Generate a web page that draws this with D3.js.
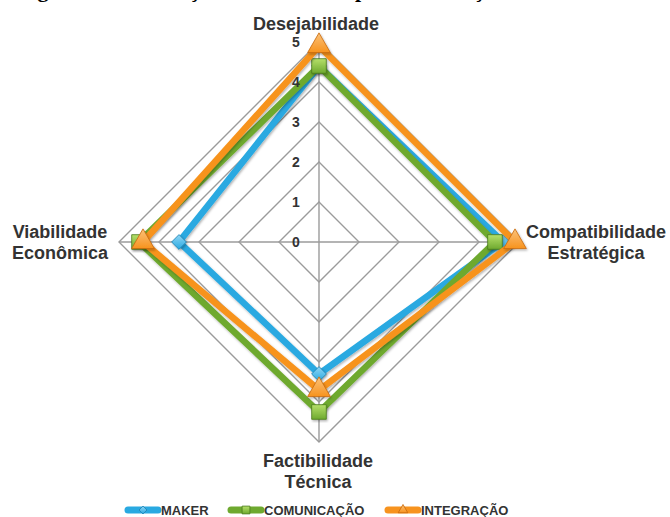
<!DOCTYPE html>
<html>
<head>
<meta charset="utf-8">
<script src="https://cdn.jsdelivr.net/npm/d3@7"></script>
<style>
  html, body { margin: 0; padding: 0; background: #fff; }
  svg { display: block; }
</style>
</head>
<body>
<svg id="chart" width="670" height="517"></svg>
<script>
// Radar axes, clockwise from the top
const axes = ["Desejabilidade", "Compatibilidade|Estratégica", "Factibilidade|Técnica", "Viabilidade|Econômica"];
// Scores per proposal (0–5)
const maker = [4.4, 4.6, 3.3, 3.5];
const comunicacao = [4.4, 4.4, 4.25, 4.5];
const integracao = [4.9, 4.9, 3.7, 4.4];
const seriesNames = ["MAKER", "COMUNICAÇÃO", "INTEGRAÇÃO"];
const tickValues = [0, 1, 2, 3, 4, 5];

const svg = d3.select("#chart");
const cx = 319, cy = 242, R = 200;

const r = d3.scaleLinear().domain([0, 5]).range([0, R]);
const angle = d3.scaleLinear().domain([0, axes.length]).range([0, 2 * Math.PI]);
const pt = (i, v) => [cx + r(v) * Math.sin(angle(i)), cy - r(v) * Math.cos(angle(i))];

const series = [
  { name: seriesNames[0], values: maker, color: "#29a9e1", light: "#8fd6f5", dark: "#1b7fb0", shape: "diamond" },
  { name: seriesNames[1], values: comunicacao, color: "#6ea92f", light: "#b6e06a", dark: "#4a7a1c", shape: "square" },
  { name: seriesNames[2], values: integracao, color: "#f7931e", light: "#fbc27a", dark: "#c8680c", shape: "triangle" }
];

// Caption line above the chart (only its descenders fall inside the frame)
svg.append("text")
  .attr("x", 18).attr("y", -3)
  .attr("font-family", "Liberation Serif, serif")
  .attr("font-weight", "bold").attr("font-size", 22)
  .attr("fill", "#000")
  .text("Figura 12 – Avaliação dos conceitos por combinação");

// Marker gradients
const defs = svg.append("defs");
series.forEach((s, k) => {
  const g = defs.append("linearGradient").attr("id", "grad" + k)
    .attr("x1", 0).attr("y1", 0).attr("x2", 0).attr("y2", 1);
  g.append("stop").attr("offset", "0%").attr("stop-color", s.light);
  g.append("stop").attr("offset", "100%").attr("stop-color", s.color);
});
const shadow = defs.append("filter").attr("id", "shadow")
  .attr("x", "-20%").attr("y", "-20%").attr("width", "140%").attr("height", "140%");
shadow.append("feDropShadow").attr("dx", 1).attr("dy", 1.5).attr("stdDeviation", 1.2)
  .attr("flood-color", "#000").attr("flood-opacity", 0.3);

// Grid rings
const grid = svg.append("g");
tickValues.filter(t => t > 0).forEach(t => {
  grid.append("polygon")
    .attr("points", axes.map((a, i) => pt(i, t).join(",")).join(" "))
    .attr("fill", "none").attr("stroke", "#9b9b9b").attr("stroke-width", 1.4);
});
// Spokes
axes.forEach((a, i) => {
  const [x, y] = pt(i, 5);
  grid.append("line").attr("x1", cx).attr("y1", cy).attr("x2", x).attr("y2", y)
    .attr("stroke", "#9b9b9b").attr("stroke-width", 1.4);
});

// Marker shapes
function marker(sel, s, k, size) {
  let sym;
  if (s.shape === "diamond") sym = d3.symbol().type(d3.symbolDiamond2).size(size * size * 0.62);
  else if (s.shape === "square") sym = d3.symbol().type(d3.symbolSquare).size(size * size * 0.95);
  else sym = d3.symbol().type(d3.symbolTriangle).size(size * size * 0.62);
  return sel.append("path").attr("d", sym())
    .attr("fill", `url(#grad${k})`).attr("stroke", s.dark).attr("stroke-width", 0.8);
}

// Series polygons and markers
const lineGen = d3.line().curve(d3.curveLinearClosed);
series.forEach((s, k) => {
  const g = svg.append("g");
  g.append("path")
    .attr("d", lineGen(s.values.map((v, i) => pt(i, v))))
    .attr("fill", "none").attr("stroke", s.color).attr("stroke-width", 6.5)
    .attr("stroke-linejoin", "miter").attr("filter", "url(#shadow)");
  s.values.forEach((v, i) => {
    const [x, y] = pt(i, v);
    const m = g.append("g").attr("transform", `translate(${x},${y})`).attr("filter", "url(#shadow)");
    marker(m, s, k, s.shape === "triangle" ? 19 : 15);
  });
});

// Radial tick labels
svg.append("g").selectAll("text").data(tickValues).join("text")
  .attr("x", cx - 23).attr("y", d => cy - r(d) + 5)
  .attr("text-anchor", "middle")
  .attr("font-family", "Liberation Sans, Arial, sans-serif")
  .attr("font-weight", "bold").attr("font-size", 14).attr("fill", "#333")
  .text(d => d);

// Axis titles
const labelPos = [
  { x: 316, y: 30, anchor: "middle" },
  { x: 596, y: 238, anchor: "middle" },
  { x: 318, y: 467, anchor: "middle" },
  { x: 60, y: 238, anchor: "middle" }
];
axes.forEach((a, i) => {
  const t = svg.append("text")
    .attr("x", labelPos[i].x).attr("y", labelPos[i].y)
    .attr("text-anchor", labelPos[i].anchor)
    .attr("font-family", "Liberation Sans, Arial, sans-serif")
    .attr("font-weight", "bold").attr("font-size", 18).attr("fill", "#333");
  a.split("|").forEach((line, j) => {
    t.append("tspan").attr("x", labelPos[i].x).attr("dy", j === 0 ? 0 : 21).text(line);
  });
});

// Legend
const legendX = [125, 228, 385];
const legend = svg.append("g");
series.forEach((s, k) => {
  const g = legend.append("g").attr("transform", `translate(${legendX[k]},510)`);
  g.append("line").attr("x1", 3).attr("x2", 33).attr("y1", 0).attr("y2", 0)
    .attr("stroke", s.color).attr("stroke-width", 7).attr("stroke-linecap", "round");
  const m = g.append("g").attr("transform", "translate(18,0)");
  marker(m, s, k, 8);
  g.append("text").attr("x", 36).attr("y", 5)
    .attr("font-family", "Liberation Sans, Arial, sans-serif")
    .attr("font-weight", "bold").attr("font-size", 13).attr("fill", "#333")
    .text(s.name);
});
</script>
</body>
</html>
